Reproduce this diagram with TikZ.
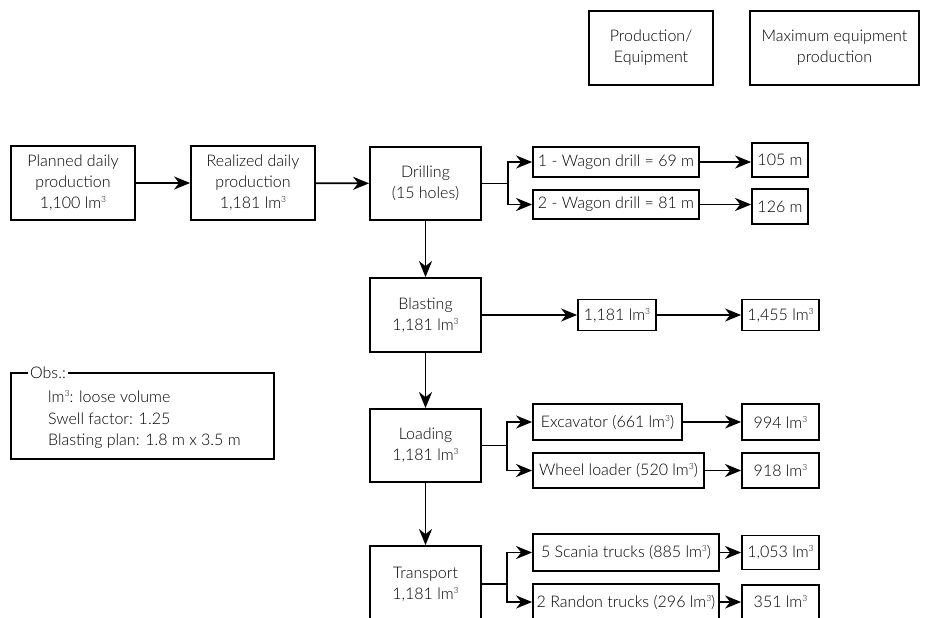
\documentclass[tikz,border=0pt]{standalone}
\usepackage{fontspec}
\setmainfont{Lato Light}
\usetikzlibrary{arrows.meta}

\tikzset{
    box/.style={draw, line width=1.8pt, inner sep=2pt, align=center, font=\fontsize{16}{21}\selectfont},
    flow/.style={line width=1.8pt, -{Stealth[length=16pt, width=13pt, inset=5pt]}},
}
\newcommand{\lmc}{lm\raisebox{0.75ex}{\fontsize{8.5}{8.5}\selectfont 3}}

\begin{document}
\begin{tikzpicture}[x=1pt, y=-1pt]
            \useasboundingbox (0,0) rectangle (940,618);
            \clip (0,0) rectangle (940,618);

            \node[box, minimum width=124, minimum height=74] (hdr1) at (651,48) {Production/\\Equipment};
            \node[box, minimum width=169, minimum height=74] (hdr2) at (834.5,48) {Maximum equipment\\production};

            \node[box, minimum width=124, minimum height=74] (plan) at (73,183) {Planned daily\\production\\1,100 \lmc};
            \node[box, minimum width=124, minimum height=74] (real) at (253,183) {Realized daily\\production\\1,181 \lmc};
            \node[box, minimum width=111, minimum height=73] (drill) at (425.5,183.5) {Drilling\\(15 holes)};
            \node[box, minimum width=166, minimum height=30] (wagon1) at (616,162) {1 - Wagon drill = 69 m};
            \node[box, minimum width=166, minimum height=29] (wagon2) at (616,204.5) {2 - Wagon drill = 81 m};
            \node[box, minimum width=56, minimum height=34] (m105) at (780,160) {105 m};
            \node[box, minimum width=56, minimum height=35] (m126) at (780,206.5) {126 m};

            \node[box, minimum width=111, minimum height=74] (blast) at (425.5,315) {Blasting\\1,181 \lmc};
            \node[box, minimum width=78, minimum height=31] (b1181) at (617,315) {1,181 \lmc};
            \node[box, minimum width=77, minimum height=31] (b1455) at (780.5,315) {1,455 \lmc};

            \node[box, minimum width=263, minimum height=86] (obs) at (142.5,416) {};
            \node[anchor=west, align=left, inner sep=0pt, font=\fontsize{16}{21.5}\selectfont] (obstext) at (48,419.5) {\lmc: loose volume\\Swell factor: 1.25\\Blasting plan: 1.8 m x 3.5 m};
            \node[fill=white, inner sep=2pt, font=\fontsize{16}{21}\selectfont] (obslabel) at (48,373) {Obs.:};

            \node[box, minimum width=111, minimum height=73] (load) at (425.5,445.5) {Loading\\1,181 \lmc};
            \node[box, minimum width=149, minimum height=36] (exc) at (607.5,422) {Excavator (661 \lmc)};
            \node[box, minimum width=171, minimum height=35] (wheel) at (618.5,470.5) {Wheel loader (520 \lmc)};
            \node[box, minimum width=77, minimum height=36] (m994) at (780.5,422) {994 \lmc};
            \node[box, minimum width=77, minimum height=35] (m918) at (780.5,470.5) {918 \lmc};

            \node[box, minimum width=111, minimum height=76] (trans) at (425.5,584) {Transport\\1,181 \lmc};
            \node[box, minimum width=186, minimum height=37] (scania) at (626,552.5) {5 Scania trucks (885 \lmc)};
            \node[box, minimum width=186, minimum height=36] (randon) at (626,602) {2 Randon trucks (296 \lmc)};
            \node[box, minimum width=77, minimum height=34] (m1053) at (780.5,552.5) {1,053 \lmc};
            \node[box, minimum width=77, minimum height=34] (m351) at (780.5,602) {351 \lmc};

            \draw[flow] (plan) -- (real);
            \draw[flow] (real) -- (drill);
            \draw[flow] (drill.east) -- ++(26,0) |- (wagon1.west);
            \draw[flow] (drill.east) -- ++(26,0) |- (wagon2.west);
            \draw[flow] (wagon1) -- (wagon1 -| m105.west);
            \draw[flow] (wagon2) -- (wagon2 -| m126.west);

            \draw[flow] (drill) -- (blast);
            \draw[flow] (blast) -- (b1181);
            \draw[flow] (b1181) -- (b1455);

            \draw[flow] (blast) -- (load);
            \draw[flow] (load.east) -- ++(25,0) |- (exc.west);
            \draw[flow] (load.east) -- ++(25,0) |- (wheel.west);
            \draw[flow] (exc) -- (m994);
            \draw[flow] (wheel) -- (m918);

            \draw[flow] (load) -- (trans);
            \draw[flow] (trans.east) -- ++(25,0) |- (scania.west);
            \draw[flow] (trans.east) -- ++(25,0) |- (randon.west);
            \draw[flow] (scania) -- (m1053);
            \draw[flow] (randon) -- (m351);
\end{tikzpicture}
\end{document}
